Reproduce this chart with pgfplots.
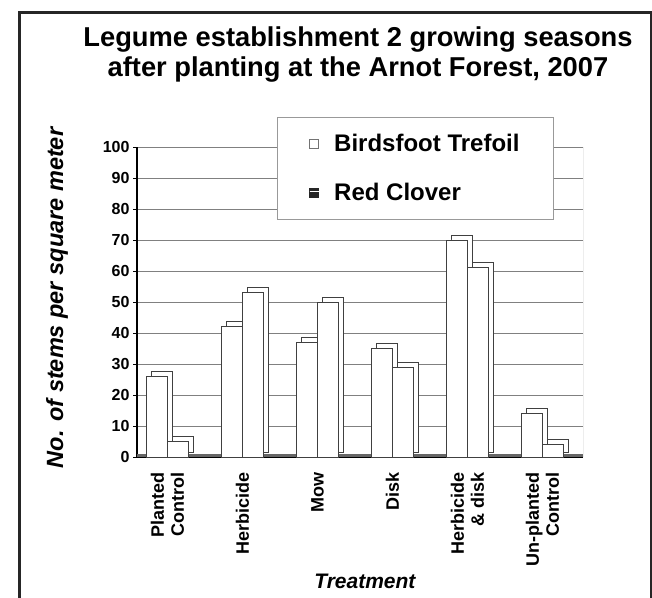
\documentclass[border=0pt]{standalone}
\usepackage{pgfplots}
\pgfplotsset{compat=1.18}
\usepackage{fontspec}
\setmainfont{Liberation Sans}
\begin{document}
\begin{tikzpicture}[x=1pt,y=1pt]
\useasboundingbox (0,0) rectangle (652,597);
\fill[white] (0,0) rectangle (652,597);
\draw[line width=3pt, black!85] (19,-10) -- (19,584) -- (651,584) -- (651,-10);
\node[align=center, font=\bfseries\fontsize{27.3}{30}\selectfont] at (358,542) {Legume establishment 2 growing seasons\\after planting at the Arnot Forest, 2007};
\begin{axis}[
  at={(137pt,140pt)}, anchor=south west,
  scale only axis, width=446pt, height=310pt,
  xmin=-0.4067, xmax=5.54, ymin=0, ymax=100,
  ytick={0,10,...,100},
  xtick={0,...,5},
  xticklabels={{Planted\\Control},Herbicide,Mow,Disk,{Herbicide\\\& disk},{Un-planted\\Control}},
  xticklabel style={yshift=-8pt, rotate=90, anchor=east, align=right,
    font=\bfseries\fontsize{18}{20}\selectfont},
  yticklabel style={font=\bfseries\fontsize{16}{18}\selectfont},
  /pgf/number format/assume math mode=true,
  xtick style={draw=none},
  extra x ticks={0.5,1.5,2.5,3.5,4.5,5.5},
  extra x tick labels={},
  extra x tick style={tick style={draw=black, line width=1pt}, major tick length=6pt, tick align=outside},
  ytick style={draw=black, line width=0.8pt},
  major tick length=4pt, tick align=outside,
  axis x line*=bottom, axis y line*=left,
  axis line style={line width=1.6pt, black},
  ymajorgrids, grid style={black!50, line width=0.9pt},
  xlabel={Treatment},
  xlabel style={at={(rel axis cs:0.511,-0.4)}, anchor=center, font=\bfseries\itshape\fontsize{21}{22}\selectfont},
  ylabel={No. of stems per square meter},
  ylabel style={at={(rel axis cs:-0.179,0.513)}, anchor=center, font=\bfseries\itshape\fontsize{23.5}{24}\selectfont},
  legend style={at={(0.314,1.097)}, anchor=north west, draw=black!40, fill=white,
    font=\bfseries\fontsize{24}{26}\selectfont, row sep=26pt, inner xsep=32pt, inner ysep=15pt},
  legend cell align=left,
]
\draw[black!55, line width=0.9pt] (rel axis cs:1,0) -- (rel axis cs:1,1);
\fill[black!60] (axis cs:-0.4067,0) rectangle (axis cs:5.54,1.0);
% Birdsfoot Trefoil
\addplot[ybar, bar width=21pt, bar shift=-10.5pt, fill=white, draw=black!75, line width=0.9pt, xshift=5pt, yshift=5pt, forget plot]
  coordinates {(0,26) (1,42) (2,37) (3,35) (4,70) (5,14)};
\addplot[ybar, bar width=21pt, bar shift=-10.5pt, fill=white, draw=black!75, line width=0.9pt,
  legend image code/.code={\draw[black!55, fill=white, line width=0.8pt] (0pt,-4.5pt) rectangle (9pt,4.5pt); \path (22pt,0pt);}]
  coordinates {(0,26) (1,42) (2,37) (3,35) (4,70) (5,14)};
\addlegendentry{Birdsfoot Trefoil}
% Red Clover
\addplot[ybar, bar width=21pt, bar shift=10.5pt, fill=white, draw=black!75, line width=0.9pt, xshift=5pt, yshift=5pt, forget plot]
  coordinates {(0,5) (1,53) (2,50) (3,29) (4,61) (5,4)};
\addplot[ybar, bar width=21pt, bar shift=10.5pt, fill=white, draw=black!75, line width=0.9pt,
  legend image code/.code={\fill[black!85] (0pt,-4.5pt) rectangle (9pt,4.5pt); \draw[white, line width=1pt] (0pt,0.5pt) -- (9pt,0.5pt); \path (22pt,0pt);}]
  coordinates {(0,5) (1,53) (2,50) (3,29) (4,61) (5,4)};
\addlegendentry{Red Clover}
\end{axis}
\end{tikzpicture}
\end{document}
